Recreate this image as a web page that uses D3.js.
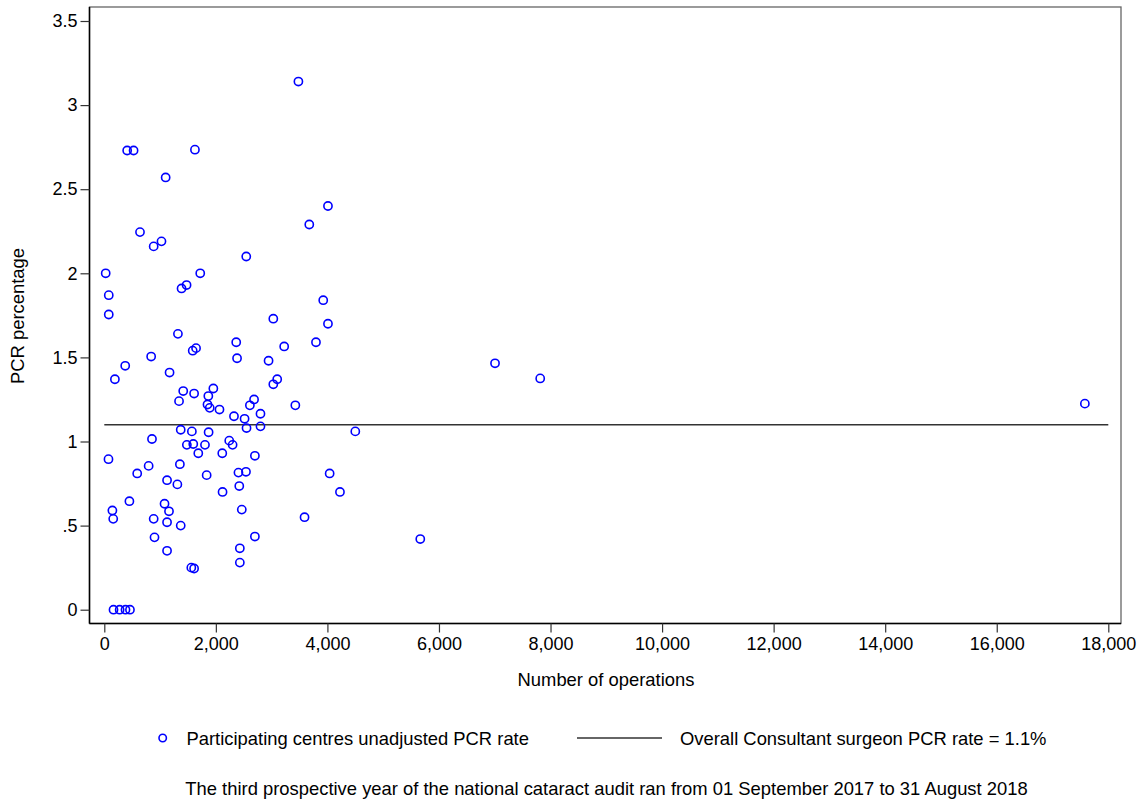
<!DOCTYPE html>
<html>
<head>
<meta charset="utf-8">
<script src="https://cdn.jsdelivr.net/npm/d3@7"></script>
<style>
  body { margin: 0; background: #fff; }
  svg text { font-family: "Liberation Sans", Arial, sans-serif; fill: #000; }
</style>
</head>
<body>
<div id="chart"></div>
<script>
// Centre-level data: number of operations and unadjusted PCR percentage
const operations = [
  3480, 410, 525, 1625, 1100, 4010, 3675, 640, 885, 1025,
  2545, 25, 1720, 80, 1385, 1475, 3925, 80, 3030, 4010,
  1320, 2365, 3795, 3225, 1645, 1585, 840, 2380, 2945, 375,
  1170, 190, 3100, 3030, 1415, 1610, 1955, 1865, 1340, 2685,
  1850, 1890, 2610, 3425, 2065, 2325, 2515, 2800, 2800, 2550,
  1370, 1570, 1870, 4500, 855, 2240, 2300, 1480, 1595, 1805,
  75, 1685, 2115, 2700, 1355, 795, 590, 1835, 2405, 2540,
  4040, 1125, 1310, 2420, 2120, 4225, 450, 1080, 145, 1160,
  2465, 160, 885, 1125, 1370, 3590, 900, 2700, 1125, 2430,
  2430, 1560, 1610, 165, 275, 380, 460, 5665, 7005, 7815,
  17580
];
const pcrRate = [
  3.14, 2.73, 2.73, 2.735, 2.57, 2.40, 2.29, 2.245, 2.16, 2.19,
  2.10, 2.00, 2.00, 1.87, 1.91, 1.93, 1.84, 1.755, 1.73, 1.70,
  1.64, 1.59, 1.59, 1.565, 1.555, 1.54, 1.505, 1.495, 1.48, 1.45,
  1.41, 1.37, 1.37, 1.34, 1.30, 1.285, 1.315, 1.27, 1.24, 1.25,
  1.22, 1.20, 1.215, 1.215, 1.19, 1.15, 1.135, 1.165, 1.09, 1.08,
  1.07, 1.06, 1.055, 1.06, 1.015, 1.005, 0.98, 0.98, 0.985, 0.98,
  0.895, 0.93, 0.93, 0.915, 0.865, 0.855, 0.81, 0.80, 0.815, 0.82,
  0.81, 0.77, 0.745, 0.735, 0.70, 0.70, 0.645, 0.63, 0.59, 0.585,
  0.595, 0.54, 0.54, 0.52, 0.50, 0.55, 0.43, 0.435, 0.35, 0.365,
  0.28, 0.25, 0.245, 0, 0, 0, 0, 0.42, 1.465, 1.375,
  1.225
];
const overallRate = 1.1;
const xTicks = [0, 2000, 4000, 6000, 8000, 10000, 12000, 14000, 16000, 18000];
const yTicks = [0, 0.5, 1, 1.5, 2, 2.5, 3, 3.5];
const yTickLabels = ["0", ".5", "1", "1.5", "2", "2.5", "3", "3.5"];

const width = 1141, height = 803;
const frame = { left: 89.5, right: 1121, top: 7, bottom: 623.5 };
const fontSize = "18.4px";

const svg = d3.select("#chart").append("svg")
  .attr("width", width)
  .attr("height", height);

const x = d3.scaleLinear().domain([0, 18000]).range([104.3, 1108.3]);
const y = d3.scaleLinear().domain([0, 3.5]).range([609.7, 21]);

// Plot region border (top/right lighter)
svg.append("rect")
  .attr("x", frame.left).attr("y", frame.top)
  .attr("width", frame.right - frame.left)
  .attr("height", frame.bottom - frame.top)
  .attr("fill", "none")
  .attr("stroke", "#666")
  .attr("stroke-width", 1.3);

// Axes
const yAxis = svg.append("g")
  .attr("transform", `translate(${frame.left},0)`)
  .call(d3.axisLeft(y).tickValues(yTicks)
    .tickFormat((d, i) => yTickLabels[i]).tickSize(9).tickPadding(3));
yAxis.select(".domain").attr("d", `M0,${frame.top}V${frame.bottom}`)
  .attr("stroke", "#000").attr("stroke-width", 1.5);

const xAxis = svg.append("g")
  .attr("transform", `translate(0,${frame.bottom})`)
  .call(d3.axisBottom(x).tickValues(xTicks)
    .tickFormat(d3.format(",")).tickSize(9).tickPadding(5));
xAxis.select(".domain").attr("d", `M${frame.left},0H${frame.right}`)
  .attr("stroke", "#000").attr("stroke-width", 1.5);

svg.selectAll(".tick line").attr("stroke", "#333").attr("stroke-width", 1.2);
svg.selectAll(".tick text")
  .style("font-family", '"Liberation Sans", Arial, sans-serif')
  .style("font-size", "18px")
  .attr("fill", "#000");

// Overall rate reference line
svg.append("line")
  .attr("x1", x(0)).attr("x2", x(18000))
  .attr("y1", y(overallRate)).attr("y2", y(overallRate))
  .attr("stroke", "#333")
  .attr("stroke-width", 1.4);

// Centre points
const points = operations.map((d, i) => ({ ops: d, rate: pcrRate[i] }));
svg.append("g").selectAll("circle")
  .data(points)
  .enter().append("circle")
  .attr("cx", d => x(d.ops))
  .attr("cy", d => y(d.rate))
  .attr("r", 4.1)
  .attr("fill", "none")
  .attr("stroke", "#0000ff")
  .attr("stroke-width", 1.6);

// Axis titles
svg.append("text")
  .attr("transform", "translate(24,316) rotate(-90)")
  .attr("text-anchor", "middle")
  .style("font-size", fontSize)
  .text("PCR percentage");

svg.append("text")
  .attr("x", 606).attr("y", 686)
  .attr("text-anchor", "middle")
  .style("font-size", fontSize)
  .text("Number of operations");

// Legend
const legend = svg.append("g");
legend.append("circle")
  .attr("cx", 162.7).attr("cy", 738)
  .attr("r", 3.7)
  .attr("fill", "none")
  .attr("stroke", "#0000ff")
  .attr("stroke-width", 1.6);
legend.append("text")
  .attr("x", 186.5).attr("y", 744.5)
  .style("font-size", fontSize)
  .text("Participating centres unadjusted PCR rate");
legend.append("line")
  .attr("x1", 577).attr("x2", 662)
  .attr("y1", 738).attr("y2", 738)
  .attr("stroke", "#333")
  .attr("stroke-width", 1.4);
legend.append("text")
  .attr("x", 680).attr("y", 744.5)
  .style("font-size", fontSize)
  .text("Overall Consultant surgeon PCR rate = 1.1%");

// Footnote
svg.append("text")
  .attr("x", 606.5).attr("y", 794.5)
  .attr("text-anchor", "middle")
  .style("font-size", fontSize)
  .text("The third prospective year of the national cataract audit ran from 01 September 2017 to 31 August 2018");
</script>
</body>
</html>
